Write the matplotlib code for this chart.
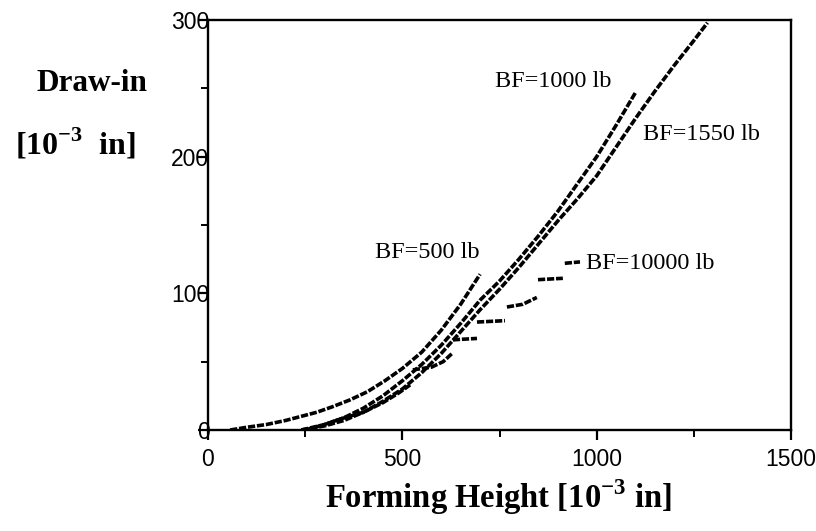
import numpy as np
import matplotlib
matplotlib.use("Agg")
import matplotlib.pyplot as plt

# forming height [1e-3 in] vs draw-in [1e-3 in]
h_500 = [57, 100, 150, 200, 240, 280, 320, 365, 410, 455, 500, 550, 600, 650, 700]
d_500 = [0, 2, 4, 7, 10, 13, 17, 22, 28, 36, 45, 57, 73, 92, 114]

h_1000 = [240, 300, 350, 400, 450, 500, 550, 600, 650, 700, 750, 800, 850, 900, 950, 1000, 1050, 1100]
d_1000 = [0, 4, 9, 16, 25, 36, 48, 62, 78, 95, 109, 125, 142, 160, 180, 200, 223, 247]

h_1550 = [240, 300, 350, 400, 450, 500, 550, 600, 650, 700, 750, 800, 850, 900, 950, 1000,
          1050, 1100, 1150, 1200, 1250, 1285]
d_1550 = [0, 3, 7, 13, 21, 30, 42, 56, 72, 88, 103, 119, 136, 153, 169, 186,
          207, 228, 248, 267, 285, 298]

# BF=10000 lb: smooth start, then staircase pieces (nan separates pieces)
h_10000 = [250, 300, 340, 400, 450, 490, 520, np.nan, 527, 575, 605, 628, np.nan, 630, 692, np.nan,
           692, 764, np.nan, 769, 810, 846, np.nan, 849, 913, np.nan, 918, 957]
d_10000 = [0, 4, 8, 13, 20, 27, 33, np.nan, 44, 46, 50, 56, np.nan, 66, 67, np.nan,
           79, 80, np.nan, 90, 92, 97, np.nan, 110, 111, np.nan, 122, 123]

labels = ["BF=500 lb", "BF=1000 lb", "BF=1550 lb", "BF=10000 lb"]
label_pos = [(430, 130), (738, 255), (1119, 216), (972, 122)]

plt.rcParams["mathtext.fontset"] = "custom"
plt.rcParams["mathtext.rm"] = "Liberation Serif"
plt.rcParams["mathtext.bf"] = "Liberation Serif:bold"

fig = plt.figure(figsize=(8.16, 5.31), dpi=100)
ax = fig.add_axes([0.2549, 0.1902, 0.7145, 0.7721])

for h, d in [(h_500, d_500), (h_1000, d_1000), (h_1550, d_1550), (h_10000, d_10000)]:
    ax.plot(h, d, color="black", lw=2.6, dashes=(2.0, 0.5), solid_capstyle="butt")

for text, (x, y) in zip(labels, label_pos):
    ax.text(x, y, text, family="Liberation Serif", fontsize=17.5, va="center", ha="left")

ax.set_xlim(0, 1500)
ax.set_ylim(0, 300)
ax.set_xticks([0, 500, 1000, 1500])
ax.set_xticks([250, 750, 1250], minor=True)
ax.set_yticks([0, 100, 200, 300])
ax.set_yticks([50, 150, 250], minor=True)
for s in ax.spines.values():
    s.set_linewidth(1.7)
ax.tick_params(axis="both", which="major", length=7, width=1.6, direction="out",
               labelsize=16.5, labelfontfamily="Liberation Sans")
ax.tick_params(axis="both", which="minor", length=5, width=1.4, direction="out")
ax.tick_params(axis="y", which="major", pad=-8)
ax.tick_params(axis="x", which="major", pad=6)

fig.text(0.045, 0.843, "Draw-in", family="Liberation Serif", weight="bold", fontsize=22.5,
         va="center", ha="left")
fig.text(0.018, 0.73, r"[10$^{\mathbf{-3}}$  in]", family="Liberation Serif", weight="bold",
         fontsize=23, va="center", ha="left")
fig.text(0.611, 0.064, r"Forming Height [10$^{\mathbf{-3}}$ in]", family="Liberation Serif",
         weight="bold", fontsize=23.5, va="center", ha="center")

fig.savefig("out.png", dpi=100)
